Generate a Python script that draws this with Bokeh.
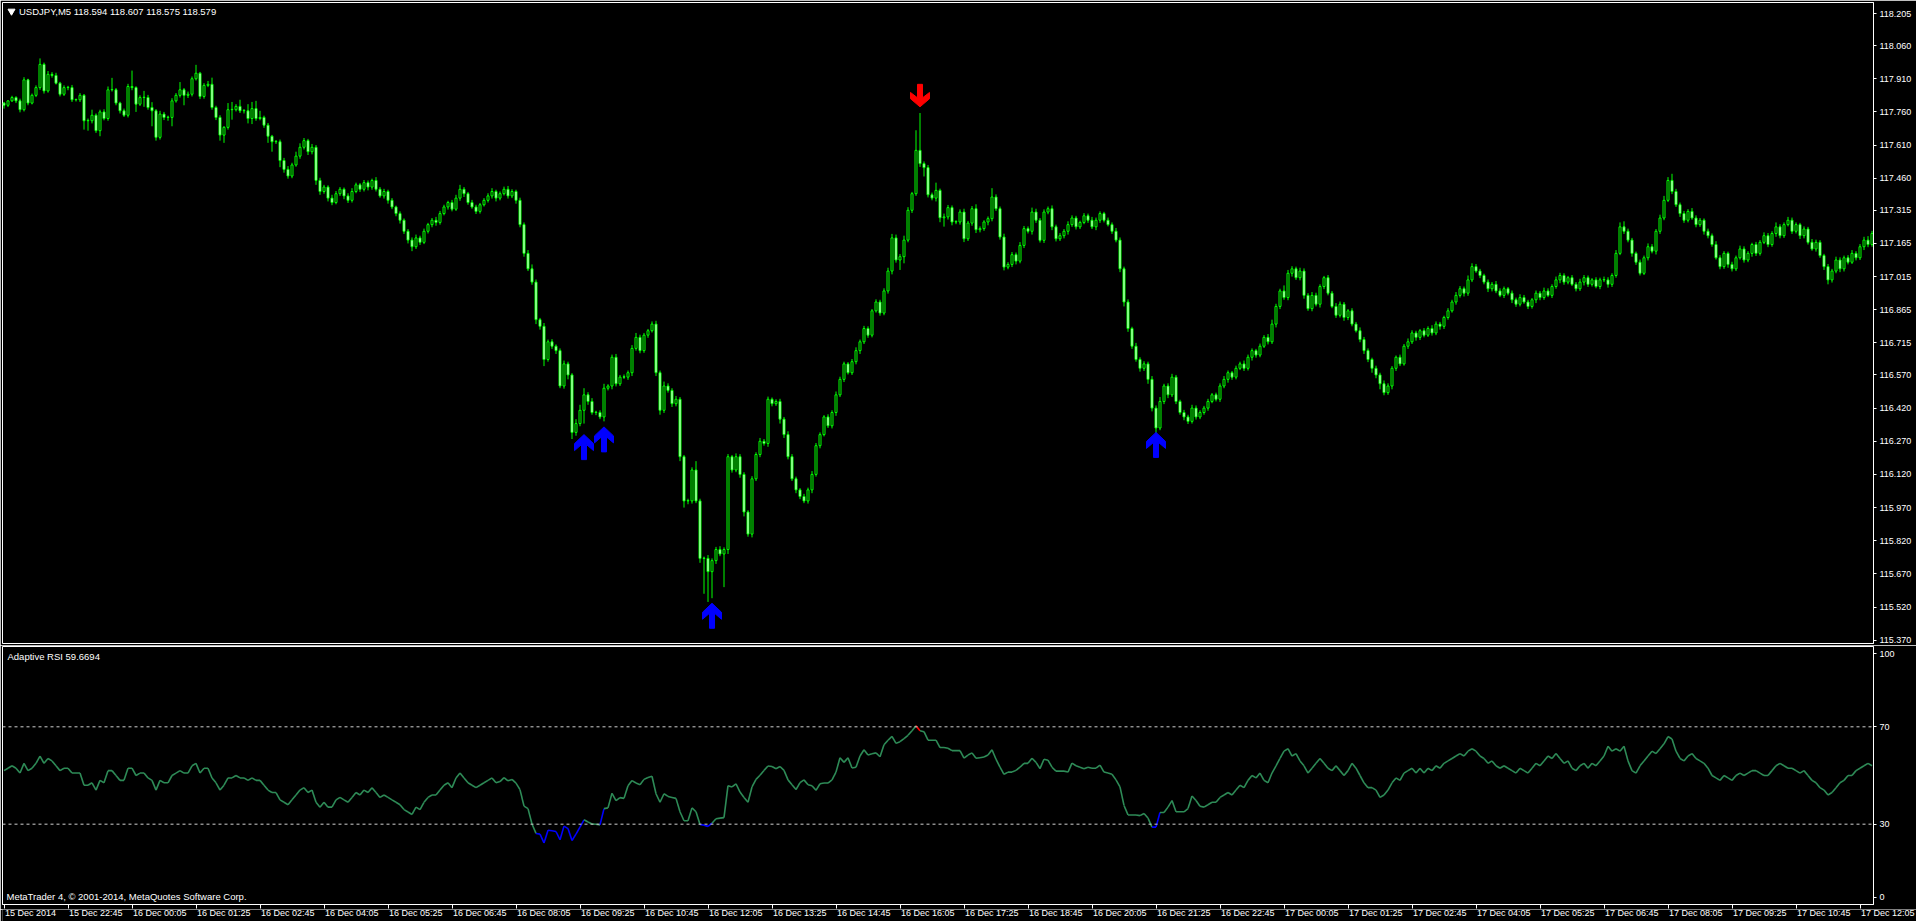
import numpy as np
from bokeh.plotting import figure
from bokeh.layouts import column
from bokeh.models import Range1d, FixedTicker, PrintfTickFormatter, Span
from bokeh.core.properties import value
from bokeh.embed import file_html
from bokeh.resources import INLINE

# ---------------- data ----------------
symbol_title = "USDJPY,M5  118.594 118.607 118.575 118.579"
rsi_title = "Adaptive RSI 59.6694"
copyright_text = "MetaTrader 4, \u00a9 2001-2014, MetaQuotes Software Corp."

first_open = 117.800
closes = [
117.790,117.810,117.825,117.810,117.770,117.905,117.800,117.835,117.870,117.975,
117.855,117.930,117.925,117.890,117.840,117.870,117.870,117.815,117.815,117.835,
117.720,117.720,117.745,117.675,117.760,117.730,117.860,117.860,117.800,117.765,
117.745,117.875,117.870,117.795,117.825,117.825,117.780,117.765,117.645,117.750,
117.735,117.735,117.810,117.835,117.860,117.835,117.840,117.910,117.935,117.830,
117.880,117.885,117.780,117.735,117.655,117.690,117.770,117.770,117.785,117.765,
117.765,117.730,117.775,117.730,117.735,117.700,117.650,117.625,117.625,117.540,
117.500,117.470,117.520,117.560,117.600,117.630,117.580,117.600,117.450,117.400,
117.420,117.370,117.350,117.390,117.410,117.380,117.360,117.400,117.430,117.410,
117.440,117.420,117.450,117.410,117.380,117.400,117.360,117.330,117.300,117.270,
117.220,117.180,117.150,117.190,117.170,117.220,117.250,117.270,117.260,117.300,
117.330,117.350,117.320,117.370,117.410,117.390,117.350,117.330,117.310,117.340,
117.360,117.380,117.400,117.370,117.390,117.410,117.380,117.400,117.360,117.250,
117.120,117.050,116.990,116.820,116.790,116.640,116.720,116.700,116.680,116.520,
116.620,116.570,116.310,116.350,116.410,116.480,116.450,116.400,116.400,116.380,
116.510,116.520,116.650,116.530,116.560,116.560,116.580,116.690,116.740,116.680,
116.750,116.770,116.800,116.580,116.410,116.520,116.500,116.440,116.460,116.200,
116.000,116.000,116.140,116.000,115.740,115.740,115.680,115.730,115.780,115.760,
115.780,116.200,116.140,116.200,116.120,115.950,115.850,116.100,116.210,116.270,
116.260,116.460,116.440,116.450,116.370,116.300,116.200,116.100,116.050,116.020,
116.000,116.050,116.120,116.250,116.300,116.380,116.340,116.400,116.480,116.550,
116.620,116.580,116.630,116.680,116.720,116.780,116.750,116.860,116.900,116.850,
116.950,117.040,117.190,117.090,117.105,117.180,117.315,117.390,117.586,117.526,
117.508,117.385,117.370,117.405,117.281,117.285,117.327,117.262,117.262,117.307,
117.186,117.257,117.322,117.227,117.232,117.262,117.277,117.375,117.322,117.194,
117.058,117.070,117.114,117.085,117.156,117.232,117.220,117.307,117.270,117.179,
117.307,117.322,117.240,117.186,117.200,117.220,117.250,117.280,117.240,117.260,
117.290,117.270,117.240,117.270,117.300,117.270,117.250,117.220,117.180,117.050,
116.900,116.780,116.700,116.640,116.600,116.620,116.550,116.420,116.330,116.450,
116.520,116.480,116.560,116.450,116.400,116.380,116.360,116.420,116.380,116.400,
116.420,116.450,116.480,116.460,116.520,116.550,116.580,116.560,116.600,116.620,
116.600,116.650,116.680,116.660,116.700,116.740,116.720,116.800,116.880,116.950,
116.920,117.030,117.050,117.010,117.040,116.930,116.870,116.930,116.890,116.970,
117.010,116.940,116.880,116.840,116.890,116.830,116.860,116.800,116.770,116.730,
116.680,116.640,116.600,116.570,116.530,116.490,116.520,116.600,116.650,116.620,
116.700,116.720,116.760,116.740,116.770,116.750,116.780,116.760,116.800,116.790,
116.830,116.860,116.900,116.930,116.960,116.940,117.000,117.060,117.040,117.020,
116.990,116.960,116.980,116.950,116.930,116.960,116.940,116.910,116.890,116.920,
116.900,116.880,116.910,116.940,116.920,116.950,116.930,116.970,117.000,117.020,
116.990,117.010,116.980,116.960,116.990,117.010,116.980,117.000,116.970,117.000,
117.000,116.980,117.020,117.120,117.240,117.220,117.180,117.120,117.080,117.030,
117.100,117.150,117.130,117.220,117.280,117.360,117.450,117.400,117.340,117.300,
117.270,117.310,117.280,117.250,117.270,117.220,117.200,117.160,117.100,117.060,
117.120,117.070,117.050,117.100,117.140,117.090,117.120,117.160,117.120,117.170,
117.200,117.160,117.210,117.240,117.200,117.250,117.270,117.220,117.250,117.200,
117.230,117.170,117.140,117.170,117.110,117.060,117.000,117.040,117.090,117.050,
117.100,117.080,117.120,117.100,117.150,117.180,117.160,117.210,
]

# wick lengths above / below the body, in pipettes (0.001)
up_wick = [
5,3,8,6,10,12,5,8,10,27,8,15,10,12,6,10,8,12,5,10,
6,10,25,8,10,12,15,54,8,6,10,12,72,6,10,30,12,24,8,15,
10,8,12,10,35,8,12,10,38,6,10,15,30,8,10,6,30,35,10,30,
8,30,30,35,30,8,10,6,8,10,12,15,10,20,18,12,8,15,10,12,
10,8,15,12,10,8,12,15,10,8,12,10,8,15,10,12,8,10,6,10,
8,10,12,15,10,12,8,10,15,12,10,8,12,15,20,10,8,12,10,8,
10,12,15,8,10,12,15,10,8,12,10,15,20,12,8,15,10,12,8,10,
15,10,8,20,25,30,12,15,8,10,20,8,12,15,10,12,10,15,20,12,
10,8,12,15,10,20,12,10,15,10,8,10,12,40,10,8,15,10,12,15,
10,12,8,15,12,10,8,12,10,15,10,12,8,10,12,10,15,12,10,8,
12,10,15,12,10,8,12,10,15,12,10,8,12,15,10,12,10,8,12,10,
12,15,18,15,12,20,14,8,91,169,10,12,10,35,8,15,12,10,8,12,
15,10,12,20,10,8,10,40,12,10,15,10,12,10,15,12,10,20,15,10,
12,10,15,10,12,10,15,12,10,8,12,10,15,12,10,8,12,10,15,12,
10,12,8,15,10,12,10,15,12,20,10,12,15,10,8,12,10,15,12,10,
10,12,8,10,12,15,10,8,12,10,15,12,10,8,12,10,15,20,12,10,
25,15,12,10,15,12,10,15,12,10,8,12,10,15,12,10,8,12,10,15,
12,10,8,12,10,15,12,10,8,12,10,15,12,10,8,12,10,15,12,10,
8,12,10,15,12,10,20,15,12,10,8,12,10,15,12,10,8,12,10,15,
12,10,8,12,10,15,12,10,15,12,10,8,12,10,15,12,10,8,12,10,
15,12,10,15,20,25,12,10,8,12,10,15,12,10,15,20,15,30,12,10,
12,10,15,12,10,8,12,10,15,12,10,8,12,10,15,12,10,8,12,10,
15,12,10,20,12,10,15,12,10,8,12,10,15,12,10,8,12,10,15,12,
10,12,15,10,12,15,18,12,
]
down_wick = [
15,8,5,10,12,8,10,6,8,10,12,8,10,6,10,8,12,10,8,10,
40,45,12,10,25,8,10,8,10,12,8,10,12,35,8,42,10,70,15,10,
12,15,40,8,10,45,12,10,8,12,10,8,10,12,25,35,10,45,8,10,
12,22,25,10,8,12,30,45,10,30,15,12,10,8,12,10,15,12,20,15,
10,15,12,8,10,15,12,10,8,12,10,15,12,10,8,12,15,10,12,15,
12,15,20,10,12,8,10,12,15,10,8,12,10,8,12,15,10,8,12,10,
8,10,12,15,10,8,12,10,15,12,15,10,12,20,15,30,10,12,15,10,
12,20,30,15,12,60,15,10,12,10,20,10,15,12,10,8,12,15,10,12,
10,12,8,15,20,12,10,15,12,20,30,15,12,10,20,160,137,120,15,10,
150,20,12,10,15,20,12,15,10,12,10,15,12,10,20,15,12,10,15,12,
10,12,15,10,12,8,10,12,15,10,12,8,10,12,15,10,12,10,8,12,
10,12,15,12,45,30,10,12,10,15,40,12,10,15,20,40,12,15,10,12,
15,10,12,15,12,10,15,12,10,12,15,10,12,15,10,12,10,15,12,10,
12,10,15,12,10,12,15,10,12,10,8,12,10,15,12,10,8,12,10,15,
20,15,12,10,15,12,20,15,30,10,12,15,10,12,10,15,12,10,12,10,
10,12,8,10,12,10,15,12,10,8,12,10,15,12,10,8,12,10,15,12,
10,12,15,10,12,15,10,12,10,15,12,10,8,12,10,15,12,10,8,12,
15,12,20,15,25,12,10,15,12,10,8,12,10,15,12,10,8,12,10,15,
12,10,8,12,10,15,12,10,8,12,10,15,12,10,8,12,10,15,12,10,
8,12,10,15,12,10,8,12,10,15,12,10,8,12,10,15,12,10,8,12,
10,15,12,10,8,12,10,15,12,10,8,12,10,15,12,10,8,12,10,15,
12,10,8,12,10,15,12,10,8,12,10,15,12,10,8,12,10,15,12,10,
8,12,10,15,12,10,8,12,10,15,12,10,8,12,10,15,20,12,10,15,
12,10,8,12,10,15,12,10,
]

rsi = [
52,53,54,53,51,55,52,53,55,58,
55,57,56,54,52,53,53,51,51,51,
46,46,47,44,48,47,52,52,50,48,
48,53,53,50,51,51,49,48,44,48,
47,47,50,51,52,51,51,54,55,51,
53,53,49,47,44,46,49,49,50,49,
49,48,49,48,48,46,44,43,43,40,
39,38,40,42,44,45,43,44,39,37,
39,37,37,40,41,40,39,41,43,42,
44,43,45,43,41,42,41,40,39,38,
36,35,34,37,36,39,41,42,42,44,
46,47,45,49,51,49,47,46,45,46,
47,48,49,47,47.5,49.1,47.8,48.4,46.9,44.2,
37.4,36.4,30.1,26.2,25.9,22.3,27.5,27.3,27.0,23.6,
29.2,28.2,23.3,25.9,28.8,31.8,30.9,30.1,30.0,29.7,
36.4,36.7,42.7,39.7,40.9,40.6,45.8,47.9,46.9,46.2,
48.4,49.2,49.7,42.5,39.0,42.5,41.4,41.0,40.6,35.1,
31.4,31.4,36.7,35.1,29.9,29.6,29.1,30.4,32.2,32.5,
32.7,45.8,45.3,46.6,43.2,41.0,39.0,45.3,48.4,50.1,
52.1,53.9,53.7,52.8,53.7,52.1,48.2,46.2,44.2,47.1,
48.2,46.2,45.8,43.9,46.6,46.9,46.9,48.2,51.4,57.3,
55.4,57.3,53.1,53.4,58.0,60.6,58.4,58.9,59.3,57.7,
62.6,64.5,66.1,63.2,63.9,65.2,66.5,68.4,70.4,68.4,
68.0,64.5,64.5,64.5,61.5,61.5,61.2,60.2,60.2,60.2,
57.1,58.4,59.3,57.1,57.3,57.6,58.4,60.6,56.7,53.4,
50.5,51.4,51.4,52.1,53.4,55.0,55.0,57.1,55.4,52.8,
56.7,56.3,53.4,51.8,51.8,51.8,51.4,55.1,54.0,53.4,
52.8,53.4,53.0,53.0,54.3,51.4,51.0,50.5,48.2,45.3,
37.7,33.8,33.8,33.8,33.5,34.4,32.5,28.8,28.8,34.8,
34.8,37.0,39.7,35.1,35.1,35.1,36.4,41.6,39.7,37.4,
37,38,39,39,41,42,43,42,44,46,
45,48,50,49,51,48,47,51,54,57,
60,61,58,59,56,54,51,53,55,57,
55,53,52,54,52,50,52,55,53,50,
47,45,45,44,41,42,44,47,49,48,
51,52,53,51,53,51,53,52,54,53,
55,56,57,58,59,58,60,61,60,58,
57,55,56,54,53,54,53,52,51,53,
52,51,53,55,54,56,58,57,59,57,
55,56,53,52,54,55,53,55,54,56,
58,62,60,61,60,62,56,52,51,54,
56,58,60,59,61,63,66,65,60,57,
56,58,59,57,56,55,53,50,49,48,
50,49,48,50,51,50,51,52,52,51,
50,50,52,54,55,54,53,53,52,51,
52,50,48,47,45,44,42,43,45,47,
48,50,50,52,53,54,55,54,
]

price_ticks = [118.205, 118.060, 117.910, 117.760, 117.610, 117.460, 117.315,
               117.165, 117.015, 116.865, 116.715, 116.570, 116.420, 116.270,
               116.120, 115.970, 115.820, 115.670, 115.520, 115.370]
rsi_ticks = [0, 30, 70, 100]
rsi_levels = [30, 70]
time_labels = ["15 Dec 2014", "15 Dec 22:45", "16 Dec 00:05", "16 Dec 01:25",
               "16 Dec 02:45", "16 Dec 04:05", "16 Dec 05:25", "16 Dec 06:45",
               "16 Dec 08:05", "16 Dec 09:25", "16 Dec 10:45", "16 Dec 12:05",
               "16 Dec 13:25", "16 Dec 14:45", "16 Dec 16:05", "16 Dec 17:25",
               "16 Dec 18:45", "16 Dec 20:05", "16 Dec 21:25", "16 Dec 22:45",
               "17 Dec 00:05", "17 Dec 01:25", "17 Dec 02:45", "17 Dec 04:05",
               "17 Dec 05:25", "17 Dec 06:45", "17 Dec 08:05", "17 Dec 09:25",
               "17 Dec 10:45", "17 Dec 12:05"]
BARS_PER_LABEL = 16   # 80 minutes of M5 bars between time labels

arrow_up_bars = [145, 150, 177, 288]
arrow_up_prices = [116.300, 116.335, 115.537, 116.310]
arrow_dn_bars = [229]
arrow_dn_prices = [117.783]

# ---------------- layout constants ----------------
FRAME_W = 1871
RIGHT_W = 43
MAIN_FRAME_H = 641
RSI_FRAME_H = 258
STRIP_FRAME_W = 1914
STRIP_H = 12
XR = (-0.375, -0.375 + FRAME_W / 4.0)
XR_STRIP = (-0.375, -0.375 + STRIP_FRAME_W / 4.0)
YR = (115.355, 118.255)
RR = (-3.0, 103.0)
FONT = value("Liberation Sans")
LIME = "#00ff00"

n = min(len(closes), len(up_wick), len(down_wick), len(rsi))
idx = np.arange(n)
c = np.array(closes[:n])
o = np.concatenate([[first_open], c[:-1]])
top = np.maximum(o, c)
bot = np.minimum(o, c)
top = np.maximum(top, bot + 0.0015)
hi = np.maximum(o, c) + np.array(up_wick[:n]) / 1000.0
lo = np.minimum(o, c) - np.array(down_wick[:n]) / 1000.0
fills = ["#000000" if cc > oo else "#ffffff" for oo, cc in zip(o, c)]


def style(fig):
    fig.background_fill_color = "black"
    fig.border_fill_color = "black"
    fig.outline_line_color = "white"
    fig.outline_line_width = 1
    fig.grid.visible = False
    fig.toolbar.logo = None
    for ax in fig.axis:
        ax.axis_line_color = "white"
        ax.major_tick_line_color = "white"
        ax.minor_tick_line_color = None
        ax.major_label_text_color = "white"
        ax.major_label_text_font = "Liberation Sans"
        ax.major_label_text_font_size = "9px"


# ---------------- main price panel ----------------
p = figure(frame_width=FRAME_W, frame_height=MAIN_FRAME_H, output_backend="svg",
           toolbar_location=None,
           x_range=Range1d(*XR), y_range=Range1d(*YR),
           y_axis_location="right", x_axis_location=None,
           min_border_left=2, min_border_right=RIGHT_W,
           min_border_top=2, min_border_bottom=2)
style(p)
p.yaxis.ticker = FixedTicker(ticks=price_ticks)
p.yaxis.formatter = PrintfTickFormatter(format="%.3f")
p.yaxis.major_tick_out = 3
p.yaxis.major_tick_in = 0
p.yaxis.major_label_standoff = 3

p.segment(x0=idx, y0=lo, x1=idx, y1=hi, line_color=LIME, line_width=1)
p.vbar(x=idx, width=0.5, bottom=bot, top=top, fill_color=fills,
       line_color=LIME, line_width=1)

# signal arrows (tip anchored at the price)
bars_per_px = (XR[1] - XR[0]) / FRAME_W
price_per_px = (YR[1] - YR[0]) / MAIN_FRAME_H
shape = [(0, 0), (9.5, 9), (9.5, 16), (2.5, 10), (2.5, 25),
         (-2.5, 25), (-2.5, 10), (-9.5, 16), (-9.5, 9)]
up_xs = [[b + dx * bars_per_px for dx, dy in shape] for b in arrow_up_bars]
up_ys = [[pr - dy * price_per_px for dx, dy in shape] for pr in arrow_up_prices]
dn_xs = [[b + dx * bars_per_px for dx, dy in shape] for b in arrow_dn_bars]
dn_ys = [[pr + dy * 0.9 * price_per_px for dx, dy in shape] for pr in arrow_dn_prices]
p.patches(up_xs, up_ys, fill_color="#0000ff", line_color="#0000ff", line_width=1)
p.patches(dn_xs, dn_ys, fill_color="#ff0000", line_color="#ff0000", line_width=1)

# header
title_y = YR[1] - 8.7 * price_per_px
p.scatter(x=[XR[0] + 9.0 * bars_per_px], y=[title_y], marker="inverted_triangle",
          size=7, fill_color="white", line_color="white")
p.text(x=[XR[0] + 16.5 * bars_per_px], y=[title_y], text=[symbol_title],
       text_font=FONT, text_font_size="9.5px", text_color="white",
       text_baseline="middle", text_align="left")

# ---------------- RSI panel ----------------
r = figure(frame_width=FRAME_W, frame_height=RSI_FRAME_H, output_backend="svg",
           toolbar_location=None,
           x_range=p.x_range, y_range=Range1d(*RR),
           y_axis_location="right", x_axis_location="below",
           min_border_left=2, min_border_right=RIGHT_W,
           min_border_top=1, min_border_bottom=5)
style(r)
r.yaxis.ticker = FixedTicker(ticks=rsi_ticks)
r.yaxis.major_label_overrides = {t: str(t) for t in rsi_ticks}
r.yaxis.major_tick_out = 3
r.yaxis.major_tick_in = 0
r.yaxis.major_label_standoff = 3

tick_pos = [k * BARS_PER_LABEL for k in range(len(time_labels))]
r.xaxis.ticker = FixedTicker(ticks=tick_pos)
r.xaxis.major_label_overrides = {t: "" for t in tick_pos}
r.xaxis.major_label_text_font_size = "0px"
r.xaxis.major_tick_out = 4
r.xaxis.major_tick_in = 0
r.xaxis.major_label_standoff = 0

for lvl in rsi_levels:
    r.add_layout(Span(location=lvl, dimension="width", line_color="#d0d0d0",
                      line_dash="3 3", line_width=1))

rv = np.array(rsi[:n], dtype=float)
seg_x, seg_y, seg_c = [], [], []
for i in range(n - 1):
    seg_x.append([i, i + 1])
    seg_y.append([rv[i], rv[i + 1]])
    if rv[i] < 30:
        seg_c.append("#0000ff")
    elif rv[i] > 70:
        seg_c.append("#ff0000")
    else:
        seg_c.append("#2e8b57")
r.multi_line(seg_x, seg_y, line_color=seg_c, line_width=1.6)

rpx = (RR[1] - RR[0]) / RSI_FRAME_H
r.text(x=[XR[0] + 5.0 * bars_per_px], y=[RR[1] - 9.7 * rpx], text=[rsi_title],
       text_font=FONT, text_font_size="9.5px", text_color="white",
       text_baseline="middle", text_align="left")
r.text(x=[XR[0] + 4.0 * bars_per_px], y=[RR[1] - 250.3 * rpx], text=[copyright_text],
       text_font=FONT, text_font_size="9.5px", text_color="white",
       text_baseline="middle", text_align="left")

# ---------------- time-label strip (labels start at their tick) ----------------
s = figure(frame_width=STRIP_FRAME_W, frame_height=STRIP_H, output_backend="svg",
           toolbar_location=None, x_range=Range1d(*XR_STRIP), y_range=Range1d(0, STRIP_H),
           x_axis_location=None, y_axis_location=None,
           min_border_left=2, min_border_right=0, min_border_top=0, min_border_bottom=0)
s.background_fill_color = "black"
s.border_fill_color = "black"
s.outline_line_color = None
s.grid.visible = False
s.text(x=[t + 1.0 * bars_per_px for t in tick_pos], y=[STRIP_H - 3.5] * len(tick_pos),
       text=time_labels, text_font=FONT, text_font_size="9px", text_color="white",
       text_baseline="middle", text_align="left")

layout = column(p, r, s, spacing=0)
html = file_html(layout, INLINE, title="USDJPY,M5")
html = html.replace("<body>", '<body style="margin:0;background:#000000;overflow:hidden">', 1)
open("out.html", "w").write(html)
